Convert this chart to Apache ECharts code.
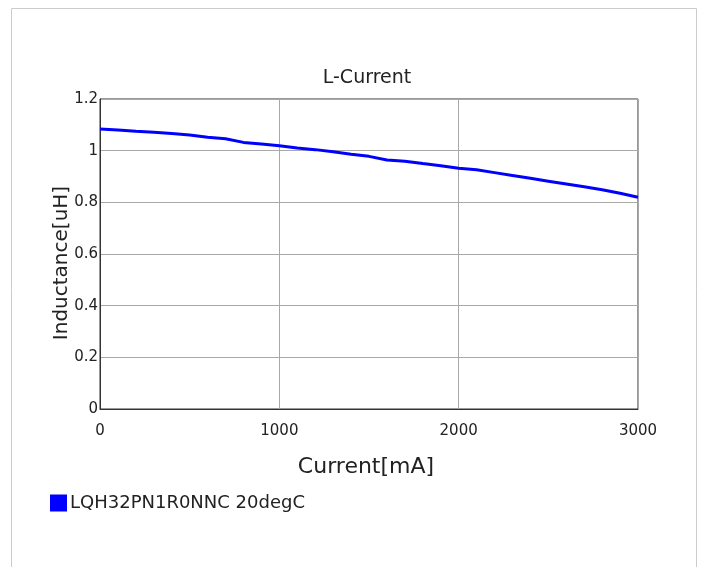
<!DOCTYPE html>
<html><head><meta charset="utf-8">
<script src="https://cdn.jsdelivr.net/npm/echarts@6/dist/echarts.min.js"></script>
<style>html,body{margin:0;padding:0;background:#fff}#c{width:709px;height:567px}</style>
</head><body><div id="c"></div>
<script>
const currentMA = [0,100,200,300,400,500,600,700,800,900,1000,1100,1200,1300,1400,1500,1600,1700,1800,1900,2000,2100,2200,2300,2400,2500,2600,2700,2800,2900,3000];
const inductanceUH = [1.084,1.080,1.075,1.071,1.066,1.061,1.052,1.046,1.032,1.026,1.019,1.010,1.004,0.996,0.986,0.978,0.964,0.959,0.950,0.942,0.932,0.926,0.915,0.904,0.893,0.882,0.871,0.860,0.849,0.835,0.820];
const seriesName = 'LQH32PN1R0NNC 20degC';
const xTicks = [0,1000,2000,3000];
const yTicks = [0,0.2,0.4,0.6,0.8,1,1.2];

const font = 'DejaVu Sans';
const chart = echarts.init(document.getElementById('c'));
chart.setOption({
  backgroundColor: '#fff',
  animation: false,
  graphic: [{type:'rect', shape:{x:11.5,y:8.5,width:685,height:600}, style:{fill:'none',stroke:'#ccc',lineWidth:1}, silent:true}],
  title: {text:'L-Current', left:367, top:69, textAlign:'center', padding:0,
    textStyle:{fontFamily:font,fontSize:19,fontWeight:'normal',color:'#222'}},
  legend: {left:50, top:494, itemWidth:17, itemHeight:17, itemGap:4, icon:'rect', padding:0,
    textStyle:{fontFamily:font,fontSize:18,color:'#222',padding:[0,0,0,-2]}, data:[seriesName]},
  grid: {left:100, right:71, top:99, bottom:158, show:true, borderColor:'#333', borderWidth:1, backgroundColor:'transparent'},
  xAxis: {type:'value', min:xTicks[0], max:xTicks[xTicks.length-1], interval:1000,
    name:'Current[mA]', nameLocation:'middle', nameGap:47, nameMoveOverlap:false,
    nameTextStyle:{fontFamily:font,fontSize:22,color:'#222',padding:[0,6,0,0]},
    axisLine:{show:true,lineStyle:{color:'#333'}}, axisTick:{show:false},
    axisLabel:{fontFamily:font,fontSize:15,color:'#222',margin:15, formatter: v => String(v)},
    splitLine:{show:true,lineStyle:{color:'#a8a8a8'}}},
  yAxis: {type:'value', min:yTicks[0], max:yTicks[yTicks.length-1], interval:0.2,
    name:'Inductance[uH]', nameLocation:'middle', nameGap:28, nameMoveOverlap:false,
    nameTextStyle:{fontFamily:font,fontSize:20,color:'#222',padding:[0,18,0,0]},
    axisLine:{show:true,lineStyle:{color:'#333'}}, axisTick:{show:false},
    axisLabel:{fontFamily:font,fontSize:15,color:'#222',margin:2, formatter: v => String(+v.toFixed(1))},
    splitLine:{show:true,lineStyle:{color:'#a8a8a8'}}},
  series: [{name:seriesName, type:'line', data: currentMA.map((x,i)=>[x,inductanceUH[i]]),
    showSymbol:false, lineStyle:{color:'#0000ff',width:3}, itemStyle:{color:'#0000ff'}}]
});
</script></body></html>
